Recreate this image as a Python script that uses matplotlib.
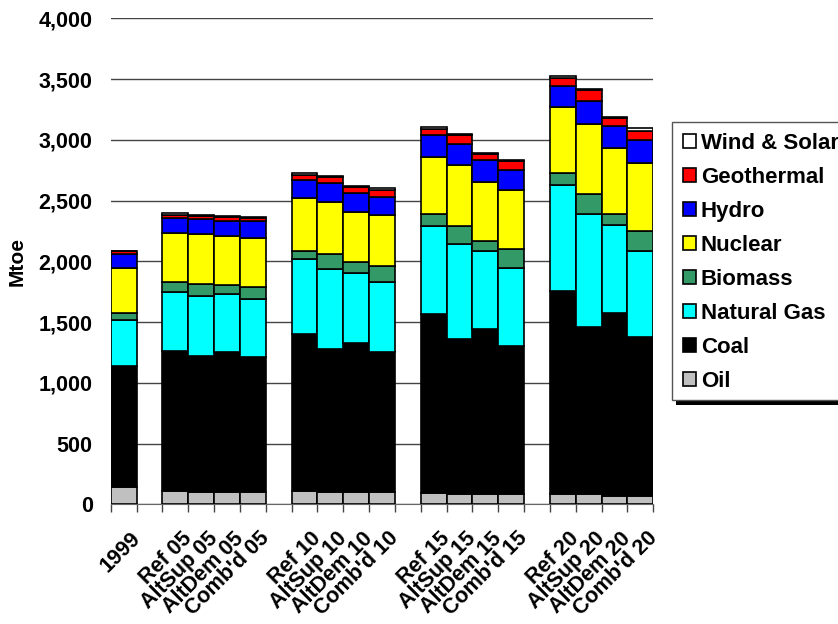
import numpy as np
import matplotlib
matplotlib.use('Agg')
from matplotlib import pyplot as plt
from matplotlib.patches import Rectangle
from matplotlib.transforms import ScaledTranslation

plt.rcParams['font.family'] = ['Liberation Sans', 'DejaVu Sans']
plt.rcParams['font.weight'] = 'bold'

# Data (Mtoe)
labels = ['1999', 'Ref 05', 'AltSup 05', 'AltDem 05', "Comb'd 05",
          'Ref 10', 'AltSup 10', 'AltDem 10', "Comb'd 10",
          'Ref 15', 'AltSup 15', 'AltDem 15', "Comb'd 15",
          'Ref 20', 'AltSup 20', 'AltDem 20', "Comb'd 20"]
oil = [140, 112, 99, 99, 99, 112, 99, 99, 99, 95, 82, 82, 82, 82, 82, 71, 71]
coal = [1001, 1152, 1124, 1152, 1111, 1290, 1179, 1231, 1152,
        1469, 1279, 1358, 1223, 1674, 1375, 1506, 1308]
gas = [376, 481, 494, 477, 480, 617, 659, 576, 576,
       726, 781, 647, 642, 872, 930, 722, 706]
biomass = [55, 85, 100, 77, 101, 68, 123, 86, 134,
           97, 148, 82, 154, 96, 164, 90, 164]
nuclear = [375, 403, 405, 403, 403, 432, 431, 416, 420,
           474, 503, 486, 486, 543, 579, 541, 557]
hydro = [113, 123, 124, 124, 138, 150, 151, 152, 151,
         179, 170, 178, 164, 174, 192, 186, 192]
geothermal = [22, 28, 30, 32, 28, 41, 54, 52, 56,
              49, 77, 47, 74, 70, 88, 60, 77]
wind_solar = [5, 11, 9, 9, 7, 14, 6, 8, 13, 19, 8, 9, 9, 14, 8, 9, 20]

series = [oil, coal, gas, biomass, nuclear, hydro, geothermal, wind_solar]
names = ['Oil', 'Coal', 'Natural Gas', 'Biomass', 'Nuclear', 'Hydro',
         'Geothermal', 'Wind & Solar']
colors = ['#C0C0C0', '#000000', '#00FFFF', '#339966', '#FFFF00', '#0000FF',
          '#FF0000', '#FFFFFF']

# slot positions: 1999, gap, 4 bars, gap, 4 bars, ...
slots = [0] + [s for g in range(4) for s in range(2 + 5 * g, 6 + 5 * g)]
x = np.array(slots) + 0.5

fig = plt.figure(figsize=(8.38, 6.24), dpi=100)
ax = fig.add_axes([0.1321, 0.1918, 0.7796 - 0.1321, 0.9707 - 0.1918])

bottom = np.zeros(len(labels))
handles = []
for vals, name, col in zip(series, names, colors):
    b = ax.bar(x, vals, width=1.0, bottom=bottom, color=col,
               edgecolor='black', linewidth=1.2, label=name, zorder=3)
    handles.append(b)
    bottom += np.array(vals)

ax.set_xlim(0, 21)
ax.set_ylim(0, 4000)
ax.set_yticks(np.arange(0, 4001, 500))
ax.set_yticklabels(['{:,}'.format(v) for v in range(0, 4001, 500)], fontsize=15.5)
ax.yaxis.grid(True, color='#444444', linewidth=1, zorder=0)
ax.tick_params(axis='y', length=0, pad=13)

ax.set_xticks(x)
ax.set_xticklabels(labels, rotation=45, ha='right', rotation_mode='anchor',
                   fontsize=15.5)
ax.set_xticks(np.arange(0, 22), minor=True)
ax.tick_params(axis='x', which='major', length=0, pad=17)
ax.tick_params(axis='x', which='minor', length=6, width=1, color='#444444')
# nudge the rotated labels a little to the right
shift = ScaledTranslation(6 / 100, 0, fig.dpi_scale_trans)
for t in ax.get_xticklabels():
    t.set_transform(t.get_transform() + shift)

for s in ['top', 'right', 'left']:
    ax.spines[s].set_visible(False)
ax.spines['bottom'].set_color('#666666')

ax.set_ylabel('Mtoe', fontsize=15, fontweight='bold', labelpad=9)

# legend box, runs off the right edge
fig.patches.append(Rectangle((676 / 838, 1 - 405 / 624), 0.3, (405 - 126) / 624,
                             transform=fig.transFigure, facecolor='black',
                             edgecolor='none', zorder=1))
fig.patches.append(Rectangle((672 / 838, 1 - 400 / 624), 0.3, (400 - 122) / 624,
                             transform=fig.transFigure, facecolor='white',
                             edgecolor='#555555', linewidth=1, zorder=2))
leg = fig.legend(handles[::-1], names[::-1], loc='upper left',
                 bbox_to_anchor=(674 / 838, 1 - 124 / 624), frameon=False,
                 fontsize=16, handlelength=0.6, handleheight=0.6,
                 handletextpad=0.2, labelspacing=0.585, borderaxespad=0)

fig.savefig('out.png', dpi=100)
